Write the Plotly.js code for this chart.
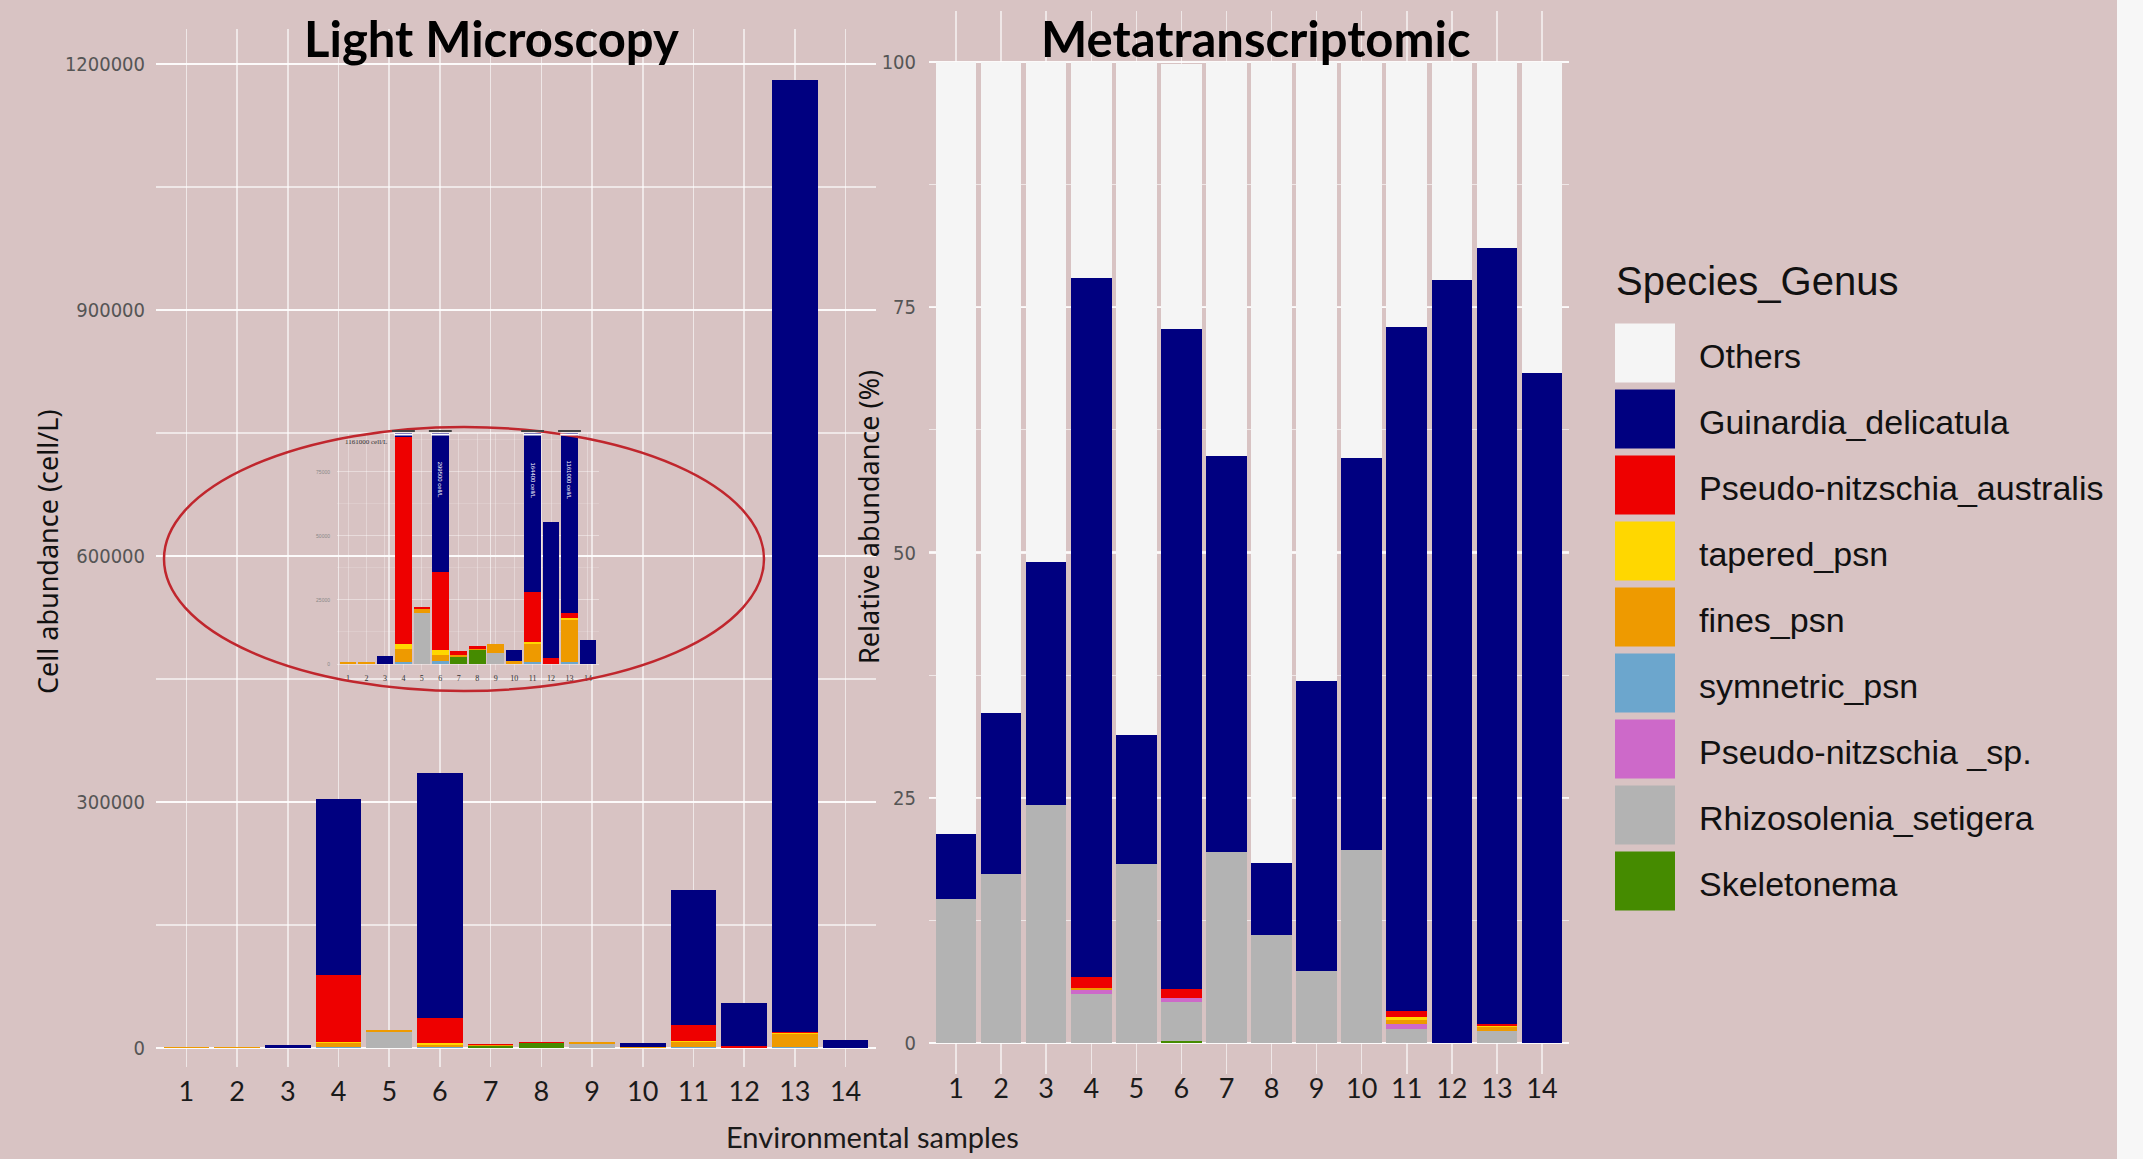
<!DOCTYPE html>
<html>
<head>
<meta charset="utf-8">
<script src="https://cdn.plot.ly/plotly-3.0.1.min.js"></script>
<style>html,body{margin:0;padding:0;background:#D8C3C3;}#chart{width:2143px;height:1159px;}</style>
</head>
<body>
<div id="chart"></div>
<script>
// ---------- DATA ----------
const samples = [1,2,3,4,5,6,7,8,9,10,11,12,13,14];
const sampleLabels = ['1','2','3','4','5','6','7','8','9','10','11','12','13','14'];

const species = ['Others','Guinardia_delicatula','Pseudo-nitzschia_australis','tapered_psn','fines_psn',
                 'symnetric_psn','Pseudo-nitzschia _sp.','Rhizosolenia_setigera','Skeletonema'];
const speciesColors = ['#F5F5F5','#000080','#EE0000','#FFD700','#EE9A00','#6CA6CD','#CD69C9','#B3B3B3','#458B00'];

// Light microscopy (cell/L)
const lmOthers      = [0,0,0,0,0,0,0,0,0,0,0,0,0,0];
const lmGuinardia   = [0,0,3300,215500,0,299500,0,0,0,4560,164400,53100,1161000,9240];
const lmAustralis   = [0,0,0,80600,1000,30500,1300,900,0,0,19400,2300,1950,0];
const lmTapered     = [0,0,0,2000,0,2100,0,0,0,0,800,0,900,0];
const lmFines       = [800,700,0,5000,1600,2100,1000,500,3300,1000,6900,0,16300,0];
const lmSymnetric   = [0,0,0,900,0,1300,0,0,0,0,900,0,900,0];
const lmPsnSp       = [0,0,0,0,0,0,0,0,0,0,0,0,0,0];
const lmRhizosolenia= [0,0,0,0,19800,0,0,0,4400,0,0,0,0,0];
const lmSkeletonema = [0,0,0,0,0,0,2700,5500,0,0,0,0,0,0];

// Metatranscriptomic (relative abundance %)
const mtOthers      = [78.7,66.4,51.0,22.0,68.6,27.0,40.2,81.7,63.1,40.4,27.0,22.2,18.95,31.7];
const mtGuinardia   = [6.65,16.34,24.76,71.3,13.17,67.34,40.37,7.34,29.56,39.92,69.74,77.8,79.15,68.3];
const mtAustralis   = [0,0,0,1.05,0,0.9,0,0,0,0,0.62,0,0.14,0];
const mtTapered     = [0,0,0,0,0,0,0,0,0,0,0.29,0,0.14,0];
const mtFines       = [0,0,0,0.22,0,0,0,0,0,0,0.43,0,0.43,0];
const mtSymnetric   = [0,0,0,0,0,0,0,0,0,0,0,0,0,0];
const mtPsnSp       = [0,0,0,0.43,0,0.36,0,0,0,0,0.47,0,0,0];
const mtRhizosolenia= [14.65,17.26,24.24,5.0,18.23,4.0,19.43,10.96,7.34,19.68,1.45,0,1.19,0];
const mtSkeletonema = [0,0,0,0,0,0.2,0,0,0,0,0,0,0,0];

// Inset labels (rotated text in truncated bars)
const insetBarText = ['','','','','','299500 cell/L','','','','','164400 cell/L','','1161000 cell/L',''];
const insetCornerText = '1161000 cell/L';

const lmTickVals = [0,300000,600000,900000,1200000];
const lmTickText = ['0','300000','600000','900000','1200000'];
const mtTickVals = [0,25,50,75,100];
const mtTickText = ['0','25','50','75','100'];
const insetTickVals = [0,25000,50000,75000];
const insetTickText = ['0','25000','50000','75000'];

// ---------- BUILD ----------
const W = 2143, H = 1159;
const px = v => v / W;
const py = v => 1 - v / H;

const lmSeries = [lmOthers,lmGuinardia,lmAustralis,lmTapered,lmFines,lmSymnetric,lmPsnSp,lmRhizosolenia,lmSkeletonema];
const mtSeries = [mtOthers,mtGuinardia,mtAustralis,mtTapered,mtFines,mtSymnetric,mtPsnSp,mtRhizosolenia,mtSkeletonema];

const traces = [];
const order = species.map((_, i) => i).reverse(); // bottom of stack first
order.forEach(i => {
  const base = {type:'bar', x:samples, name:species[i], showlegend:false,
                marker:{color:speciesColors[i], line:{width:0}}, hoverinfo:'name+y'};
  traces.push(Object.assign({}, base, {y:lmSeries[i], xaxis:'x', yaxis:'y'}));
  traces.push(Object.assign({}, base, {y:mtSeries[i], xaxis:'x2', yaxis:'y2'}));
  traces.push(Object.assign({}, base, {y:lmSeries[i], xaxis:'x3', yaxis:'y3'}));
});

const gridMajor = 'rgba(255,255,255,0.78)';
const gridV = 'rgba(255,255,255,0.6)';
const yTickFont = {family:'Liberation Sans Narrow, DejaVu Sans Condensed, Arial Narrow, Roboto, sans-serif', size:20, color:'#555555'};
const xTickFont = {family:'Lato, Open Sans, sans-serif', size:27, color:'#1a1a1a'};

const insetRange = [-2340, 90200];

const shapes = [];
const annotations = [];
function ann(o) {
  annotations.push(Object.assign({xref:'paper', yref:'paper', showarrow:false, xanchor:'center', yanchor:'middle'}, o));
}

// right edge strip
shapes.push({type:'rect', xref:'paper', yref:'paper', x0:px(2117), x1:1, y0:0, y1:1,
             fillcolor:'#F7F7F7', line:{width:0}, layer:'below'});
// ellipse around inset
shapes.push({type:'circle', xref:'paper', yref:'paper', x0:px(164), x1:px(764), y0:py(691), y1:py(427),
             line:{color:'#C0262D', width:2.5}, layer:'above'});

// break marks on truncated inset bars
samples.forEach((s, k) => {
  const tot = lmSeries.reduce((a, arr) => a + arr[k], 0);
  if (tot > insetRange[1]) {
    shapes.push({type:'line', xref:'x3', yref:'paper', x0:s-0.62, x1:s+0.62, y0:py(431), y1:py(431),
                 line:{color:'#444444', width:2}});
    shapes.push({type:'line', xref:'x3', yref:'paper', x0:s-0.5, x1:s+0.5, y0:py(434.5), y1:py(434.5),
                 line:{color:'#FFFFFF', width:2}});
  }
  if (insetBarText[k]) {
    ann({xref:'x3', x:s, y:py(480), text:insetBarText[k], textangle:90,
         font:{family:'Liberation Sans', size:6, color:'#FFFFFF'}});
  }
});
ann({x:px(366), y:py(442), text:insetCornerText, font:{family:'Liberation Serif', size:7, color:'#333333'}});

// titles
ann({x:px(491), y:py(38), text:'Light Microscopy', font:{family:'Lato, Open Sans, sans-serif', size:49, weight:700, color:'#000000'}});
ann({x:px(1256), y:py(38), text:'Metatranscriptomic', font:{family:'Lato, Open Sans, sans-serif', size:49, weight:700, color:'#000000'}});
ann({x:px(48), y:py(552), text:'Cell abundance (cell/L)', textangle:-90, font:{family:'Noto Sans, sans-serif', size:27, color:'#111111'}});
ann({x:px(869), y:py(517), text:'Relative abundance (%)', textangle:-90, font:{family:'Noto Sans, sans-serif', size:27, color:'#111111'}});
ann({x:px(872), y:py(1136), text:'Environmental samples', font:{family:'Lato, Open Sans, sans-serif', size:29, color:'#1a1a1a'}});

// custom legend
ann({x:px(1614), y:py(281), xanchor:'left', text:'Species_Genus', font:{family:'Liberation Sans, Arial, sans-serif', size:40, color:'#111111'}});
species.forEach((sp, i) => {
  const cy = 353 + 66 * i;
  shapes.push({type:'rect', xref:'paper', yref:'paper', x0:px(1615), x1:px(1675), y0:py(cy+29.5), y1:py(cy-29.5),
               fillcolor:speciesColors[i], line:{width:0}});
  ann({x:px(1697), y:py(cy+3), xanchor:'left', text:sp, font:{family:'Liberation Sans, Arial, sans-serif', size:34, color:'#111111'}});
});

const layout = {
  width: W, height: H,
  margin: {l:0, r:0, t:0, b:0, pad:0},
  paper_bgcolor: '#D8C3C3',
  plot_bgcolor: 'rgba(0,0,0,0)',
  barmode: 'stack',
  bargap: 0.1,
  showlegend: false,
  xaxis: {domain:[px(156), px(876)], anchor:'y', range:[0.4,14.6], tickmode:'array', tickvals:samples, ticktext:sampleLabels,
          showgrid:true, gridcolor:gridV, gridwidth:1.5, zeroline:false, showline:false, ticks:'',
          tickfont:xTickFont, ticklabelstandoff:6, fixedrange:true},
  yaxis: {domain:[py(1067), py(29)], anchor:'x', range:[-23170, 1242700], tickmode:'array', tickvals:lmTickVals, ticktext:lmTickText,
          showgrid:true, gridcolor:gridMajor, gridwidth:2.2, zeroline:false, showline:false, ticks:'',
          tickfont:yTickFont, ticklabelstandoff:10,
          minor:{dtick:150000, tick0:0, showgrid:true, gridcolor:'rgba(255,255,255,0.6)', gridwidth:1.2}},
  xaxis2: {domain:[px(929), px(1569)], anchor:'y2', range:[0.4,14.6], tickmode:'array', tickvals:samples, ticktext:sampleLabels,
           showgrid:true, gridcolor:gridV, gridwidth:1.5, zeroline:false, showline:false, ticks:'',
           tickfont:xTickFont, ticklabelstandoff:-4},
  yaxis2: {domain:[py(1074), py(11)], anchor:'x2', range:[-3.16, 105.2], tickmode:'array', tickvals:mtTickVals, ticktext:mtTickText,
           showgrid:true, gridcolor:gridMajor, gridwidth:2.2, zeroline:false, showline:false, ticks:'',
           tickfont:yTickFont, ticklabelstandoff:12,
           minor:{dtick:12.5, tick0:0, showgrid:true, gridcolor:'rgba(255,255,255,0.6)', gridwidth:1.2}},
  xaxis3: {domain:[px(337), px(599)], anchor:'y3', range:[0.4,14.6], tickmode:'array', tickvals:samples, ticktext:sampleLabels,
           showgrid:true, gridcolor:'rgba(255,255,255,0.3)', gridwidth:1, zeroline:false, showline:false, ticks:'',
           tickfont:{family:'Liberation Serif', size:8, color:'#333333'}, ticklabelstandoff:2},
  yaxis3: {domain:[py(670), py(433)], anchor:'x3', range:insetRange, tickmode:'array', tickvals:insetTickVals, ticktext:insetTickText,
           showgrid:true, gridcolor:'rgba(255,255,255,0.3)', gridwidth:1, zeroline:false, showline:false, ticks:'',
           tickfont:{family:'Liberation Sans', size:5, color:'#888888'}, ticklabelstandoff:6,
           minor:{dtick:12500, showgrid:true, gridcolor:'rgba(255,255,255,0.2)', gridwidth:0.8}},
  shapes: shapes,
  annotations: annotations
};

Plotly.newPlot('chart', traces, layout, {displayModeBar:false, staticPlot:true});
</script>
</body>
</html>
